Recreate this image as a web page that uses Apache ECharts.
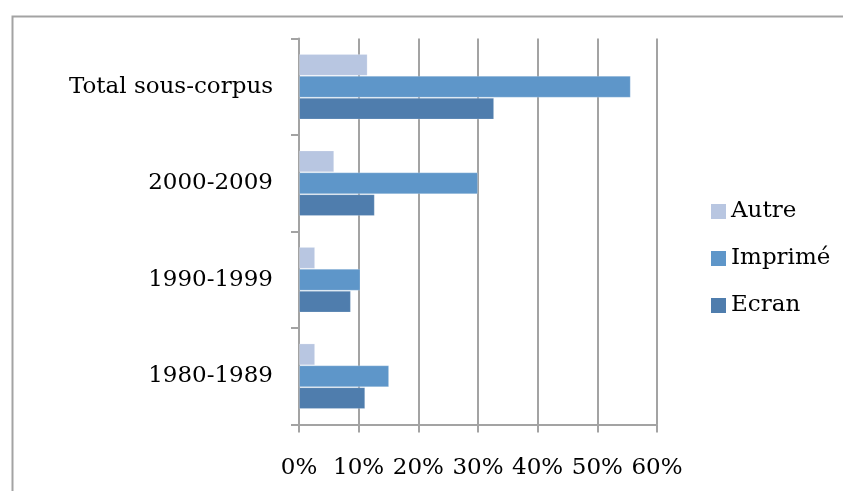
<!DOCTYPE html>
<html>
<head>
<meta charset="utf-8">
<script src="https://cdn.jsdelivr.net/npm/echarts@6/dist/echarts.min.js"></script>
<style>
html,body{margin:0;padding:0;background:#fff;}
#chart{width:843px;height:491px;}
</style>
</head>
<body>
<div id="chart"></div>
<script>
// Categories bottom-to-top (ECharts category y axis starts at the bottom)
var categories = ['1980-1989', '1990-1999', '2000-2009', 'Total sous-corpus'];
var ecran   = [11.1, 8.7, 12.7, 32.7];
var imprime = [15.1, 10.3, 30.0, 55.6];
var autre   = [2.7, 2.7, 5.9, 11.5];
var xTicks = [0, 10, 20, 30, 40, 50, 60];

var FONT = 'DejaVu Serif';
var chart = echarts.init(document.getElementById('chart'), null, {renderer: 'canvas'});
var barBorder = {borderColor: 'rgba(255,255,255,0.2)', borderWidth: 1};
chart.setOption({
  animation: false,
  backgroundColor: '#ffffff',
  graphic: [{
    type: 'rect', left: 10, top: 14, silent: true,
    shape: {x: 0, y: 0, width: 900, height: 600},
    style: {fill: 'none', stroke: '#a3a3a3', lineWidth: 2}
  }],
  legend: {
    orient: 'vertical', left: 711, top: 200, padding: 0,
    itemWidth: 15, itemHeight: 15, itemGap: 24,
    icon: 'rect',
    data: ['Autre', 'Imprimé', 'Ecran'],
    textStyle: {fontFamily: FONT, fontSize: 23, color: '#000'},
    itemStyle: {borderWidth: 0}
  },
  grid: {left: 299, right: 186, top: 38.5, bottom: 66.5, containLabel: false},
  xAxis: {
    type: 'value', min: xTicks[0], max: xTicks[xTicks.length - 1], interval: 10,
    axisLine: {show: true, lineStyle: {color: '#a3a3a3', width: 2}},
    axisTick: {show: true, length: 8, lineStyle: {color: '#a3a3a3', width: 2}},
    splitLine: {show: true, lineStyle: {color: '#a3a3a3', width: 2}},
    axisLabel: {formatter: '{value}%', fontFamily: FONT, fontSize: 23, color: '#000', margin: 32}
  },
  yAxis: {
    type: 'category', data: categories,
    axisLine: {show: true, lineStyle: {color: '#a3a3a3', width: 2}},
    axisTick: {show: true, length: 8, lineStyle: {color: '#a3a3a3', width: 2}},
    axisLabel: {fontFamily: FONT, fontSize: 23, color: '#000', margin: 26, padding: [6, 0, 0, 0]}
  },
  series: [
    {name: 'Autre', type: 'bar', data: autre, barGap: '0%', barCategoryGap: '32%',
     itemStyle: Object.assign({color: '#B8C6E1'}, barBorder)},
    {name: 'Imprimé', type: 'bar', data: imprime, barGap: '0%', barCategoryGap: '32%',
     itemStyle: Object.assign({color: '#5E96C9'}, barBorder)},
    {name: 'Ecran', type: 'bar', data: ecran, barGap: '0%', barCategoryGap: '32%',
     itemStyle: Object.assign({color: '#4F7DAD'}, barBorder)}
  ]
});
</script>
</body>
</html>
